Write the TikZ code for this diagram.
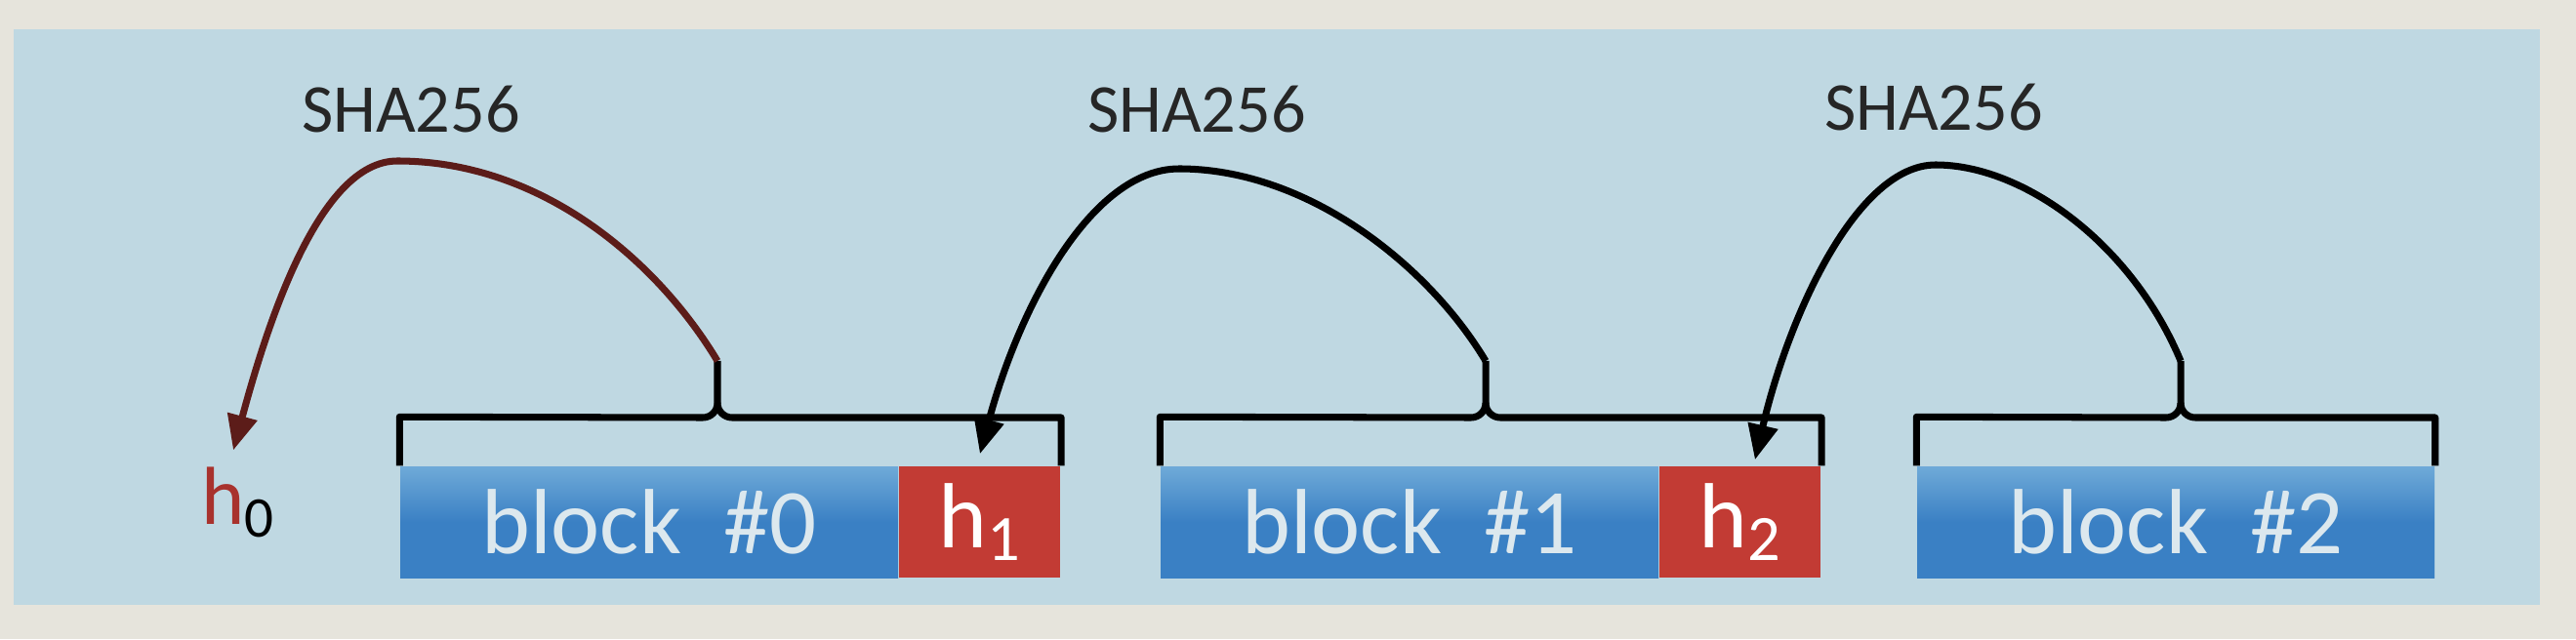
\documentclass[tikz,border=0pt]{standalone}
\usepackage{fontspec}
\setmainfont{Carlito}
\usetikzlibrary{arrows.meta,positioning,calc}

\definecolor{screen}{HTML}{BFD8E2}
\definecolor{frame}{HTML}{E6E4DC}
\definecolor{blockblue}{HTML}{3A80C4}
\definecolor{blocktop}{HTML}{6FAAD8}
\definecolor{hashred}{HTML}{C23B34}
\definecolor{hashtop}{HTML}{B5413A}
\definecolor{paletxt}{HTML}{DCE8EE}
\definecolor{hzero}{HTML}{A8322D}

\begin{document}
\begin{tikzpicture}[font=\fontsize{20}{24}\selectfont,node distance=0cm]
  %----- styles
  \tikzset{
    blk/.style  ={top color=blocktop,bottom color=blockblue,middle color=blockblue,text=paletxt,minimum width=5.1cm,minimum height=1.14cm,inner sep=0pt,font=\fontsize{27}{30}\selectfont},
    hash/.style ={fill=hashred,text=white,minimum width=1.65cm,minimum height=1.14cm,inner sep=0pt,font=\fontsize{27}{30}\selectfont},
    brace/.style={line width=2pt,line join=round},
    arrow/.style={-{Triangle[length=3.6mm,width=3mm]},line width=2pt},
    lbl/.style  ={text=black!85}
  }

  %----- screen
  \useasboundingbox (0,0) rectangle (26.39,6.55);
  \fill[frame] (0,0) rectangle (26.39,6.55);
  \fill[screen] (0.14,0.35) rectangle (26.02,6.25);

  %----- nodes
  % chain of blocks, each with the hash of the one before
  \node[blk] (b0) at (6.65,1.20) {block\ \ \#0};
  \node[hash,right=of b0] (h1) {h\textsubscript{1}};
  \node[blk] (b1) at (14.44,1.20) {block\ \ \#1};
  \node[hash,right=of b1] (h2) {h\textsubscript{2}};
  \node[blk,minimum width=5.3cm] (b2) at (22.29,1.20) {block\ \ \#2};

  \node[text=hzero,font=\fontsize{24}{28}\selectfont] (h0) at (2.44,1.40) {h\textsubscript{\color{black}0}};

  % hash labels
  \node[lbl] (s0) at (4.21,5.43) {SHA256};
  \node[lbl] (s1) at (12.26,5.43) {SHA256};
  \node[lbl] (s2) at (19.81,5.45) {SHA256};

  % tick tops and arc peaks
  \coordinate (t0) at (7.35,2.85);
  \coordinate (t1) at (15.22,2.85);
  \coordinate (t2) at (22.34,2.85);
  \coordinate (p0) at (4.07,4.90);
  \coordinate (p1) at (12.08,4.82);
  \coordinate (p2) at (19.83,4.86);

  %----- brackets
  \draw[brace] (b0.north west) -- ++(0,0.5) -- ($(t0)+(-0.15,-0.58)$) to[out=0,in=-90] ($(t0)+(0,-0.43)$) -- (t0);
  \draw[brace] ($(t0)+(0,-0.43)$) to[out=-90,in=180] ($(t0)+(0.15,-0.58)$) -| (h1.north east);

  \draw[brace] (b1.north west) -- ++(0,0.5) -- ($(t1)+(-0.15,-0.58)$) to[out=0,in=-90] ($(t1)+(0,-0.43)$) -- (t1);
  \draw[brace] ($(t1)+(0,-0.43)$) to[out=-90,in=180] ($(t1)+(0.15,-0.58)$) -| (h2.north east);

  \draw[brace] (b2.north west) -- ++(0,0.5) -- ($(t2)+(-0.15,-0.58)$) to[out=0,in=-90] ($(t2)+(0,-0.43)$) -- (t2);
  \draw[brace] ($(t2)+(0,-0.43)$) to[out=-90,in=180] ($(t2)+(0.15,-0.58)$) -| (b2.north east);

  %----- connections
  \draw[arrow,hzero!55!black] (t0) .. controls +(-0.6,1.0) and +(1.5,0) .. (p0)
    .. controls +(-0.8,0) and +(0.35,1.3) .. ([xshift=-0.05cm,yshift=0.05cm]h0.north);
  \draw[arrow] (t1) .. controls +(-0.6,1.0) and +(1.3,0) .. (p1)
    .. controls +(-0.9,0) and +(0.4,1.5) .. ([yshift=1.2mm]h1.north);
  \draw[arrow] (t2) .. controls +(-0.5,1.2) and +(0.9,0) .. (p2)
    .. controls +(-0.8,0) and +(0.35,1.5) .. ([xshift=1.5mm,yshift=0.6mm]h2.north);

\end{tikzpicture}
\end{document}
